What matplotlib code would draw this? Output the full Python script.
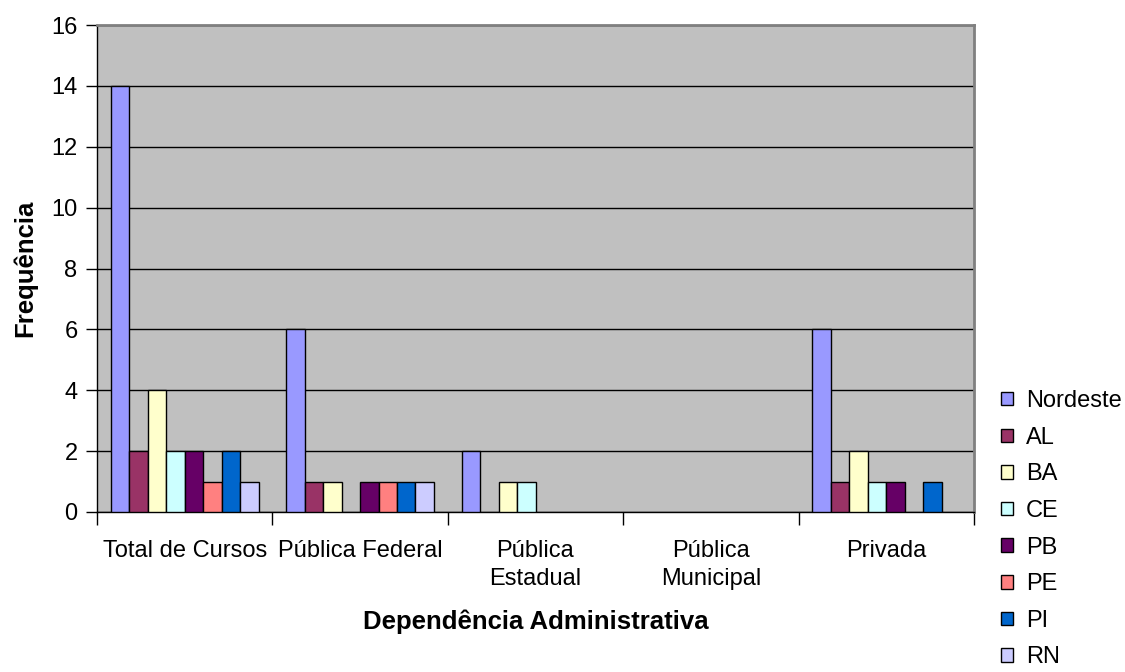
import matplotlib
matplotlib.use("Agg")
import matplotlib.pyplot as plt
import numpy as np

categories = ["Total de Cursos", "Pública Federal", "Pública\nEstadual", "Pública\nMunicipal", "Privada"]
series_names = ["Nordeste", "AL", "BA", "CE", "PB", "PE", "PI", "RN"]
nordeste = [14, 6, 2, 0, 6]
al = [2, 1, 0, 0, 1]
ba = [4, 1, 1, 0, 2]
ce = [2, 0, 1, 0, 1]
pb = [2, 1, 0, 0, 1]
pe = [1, 1, 0, 0, 0]
pi = [2, 1, 0, 0, 1]
rn = [1, 1, 0, 0, 0]
series_values = [nordeste, al, ba, ce, pb, pe, pi, rn]
colors = ["#9999FF", "#993366", "#FFFFCC", "#CCFFFF", "#660066", "#FF8080", "#0066CC", "#CCCCFF"]
y_ticks = [0, 2, 4, 6, 8, 10, 12, 14, 16]

plt.rcParams['font.family'] = ['Liberation Sans', 'DejaVu Sans']
FS = 17
FSB = 18.5

fig = plt.figure(figsize=(11.25, 6.72), dpi=100)
ax = fig.add_axes([97/1125, 1 - 512/672, (974 - 97)/1125, (512 - 25)/672])
ax.set_facecolor("#C0C0C0")

n = len(series_names)
group_w = n / (n + 1.5)
bw = group_w / n
x = np.arange(len(categories))
for i, (name, vals, c) in enumerate(zip(series_names, series_values, colors)):
    pos = x - group_w / 2 + bw * (i + 0.5)
    lws = [1.0 if v > 0 else 0.0 for v in vals]
    ax.bar(pos, vals, width=bw, color=c, edgecolor="black", linewidth=lws, label=name, zorder=3)

ax.set_xlim(-0.5, len(categories) - 0.5)
ax.set_ylim(0, 16)
ax.set_yticks(y_ticks)
ax.yaxis.grid(True, color="black", linewidth=1.0, zorder=1)
ax.set_axisbelow(True)

ax.set_xticks(np.arange(len(categories) + 1) - 0.5)
ax.set_xticklabels([])
ax.set_xticks(x, minor=True)
ax.set_xticklabels(categories, minor=True, fontsize=FS, linespacing=1.38)
ax.tick_params(axis="x", which="minor", length=0, pad=20)
ax.tick_params(axis="x", which="major", length=9, width=1, direction="out", color="black")
ax.tick_params(axis="y", length=8, width=1, direction="out", labelsize=FS, pad=6)

for s in ["top", "right"]:
    ax.spines[s].set_color("#808080")
    ax.spines[s].set_linewidth(2)
for s in ["left", "bottom"]:
    ax.spines[s].set_color("black")
    ax.spines[s].set_linewidth(1)

ax.set_ylabel("Frequência", fontsize=FSB, fontweight="bold", labelpad=10)
ax.set_xlabel("Dependência Administrativa", fontsize=FSB, fontweight="bold", labelpad=14)

leg = fig.legend(loc="upper left", bbox_to_anchor=(1001/1125, 1 - 390/672), frameon=False,
                 fontsize=FS, handlelength=0.5, handleheight=0.5, handletextpad=0.55,
                 labelspacing=0.62, borderaxespad=0, borderpad=0)
for h in leg.legend_handles:
    h.set_linewidth(1.0)
    h.set_edgecolor("black")

fig.savefig("out.png", dpi=100)
